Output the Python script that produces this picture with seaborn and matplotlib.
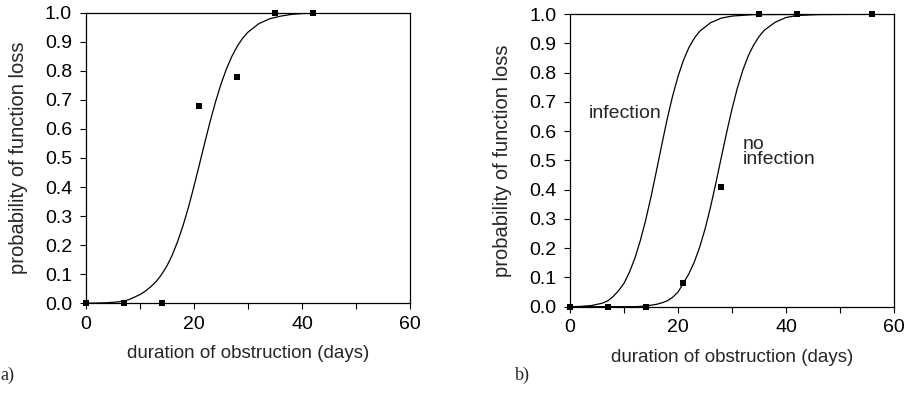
import numpy as np
import pandas as pd
import seaborn as sns
import matplotlib.pyplot as plt

# observed points (days, probability)
obs_days_a = [0, 7, 14, 21, 28, 35, 42]
obs_prob_a = [0.0, 0.0, 0.0, 0.68, 0.78, 1.0, 1.0]

obs_days_b = [0, 7, 14, 21, 28, 35, 42, 56]
obs_prob_b = [0.0, 0.0, 0.0, 0.08, 0.41, 1.0, 1.0, 1.0]

# fitted curves
fit_days_a = [0, 4, 6, 7, 8, 10, 11, 12, 13, 14, 15, 16, 17, 18, 19, 20, 21, 22, 23,
              24, 25, 26, 27, 28, 29, 30, 32, 34, 36, 38, 40, 45, 60]
fit_prob_a = [0.0, 0.002, 0.005, 0.008, 0.013, 0.03, 0.042, 0.057, 0.075, 0.099,
              0.129, 0.167, 0.214, 0.269, 0.332, 0.403, 0.477, 0.553, 0.626, 0.694,
              0.754, 0.806, 0.849, 0.884, 0.912, 0.933, 0.962, 0.979, 0.988, 0.994,
              0.997, 0.999, 1.0]

fit_days_inf = [0, 2, 4, 6, 7, 8, 9, 10, 11, 12, 13, 14, 15, 16, 17, 18, 19, 20, 21,
                22, 23, 24, 26, 28, 30, 34, 60]
fit_prob_inf = [0.0, 0.001, 0.004, 0.012, 0.02, 0.035, 0.055, 0.08, 0.118, 0.165,
                0.225, 0.295, 0.376, 0.464, 0.554, 0.642, 0.72, 0.787, 0.842, 0.885,
                0.917, 0.941, 0.97, 0.986, 0.993, 0.998, 1.0]

fit_days_noinf = [0, 10, 12, 14, 16, 17, 18, 19, 20, 21, 22, 23, 24, 25, 26, 27, 28,
                  29, 30, 31, 32, 33, 34, 35, 36, 38, 40, 42, 46, 60]
fit_prob_noinf = [0.0, 0.0, 0.0, 0.002, 0.008, 0.013, 0.02, 0.032, 0.05, 0.081, 0.112,
                  0.152, 0.203, 0.265, 0.339, 0.422, 0.509, 0.595, 0.676, 0.748, 0.808,
                  0.857, 0.894, 0.923, 0.945, 0.972, 0.988, 0.995, 0.998, 1.0]

x_ticks = [0, 20, 40, 60]
y_ticks = [round(0.1 * i, 1) for i in range(11)]

sns.set_style("ticks")
plt.rcParams['font.family'] = ['Liberation Sans', 'DejaVu Sans']

fig = plt.figure(figsize=(9.08, 4.16), dpi=100)
ax_a = fig.add_axes([0.0947, 0.2709, 0.3568, 0.6986])
ax_b = fig.add_axes([0.6278, 0.2628, 0.3568, 0.7035])


def style_axis(ax):
    ax.set_xlim(0, 60)
    ax.set_ylim(0, 1.0)
    ax.set_xticks(x_ticks)
    ax.set_xticks([10, 30, 50], minor=True)
    ax.set_yticks(y_ticks)
    ax.set_yticklabels([f"{v:.1f}" for v in y_ticks])
    ax.tick_params(which='both', direction='out', length=4, width=0.8,
                   labelsize=14, color='black', labelcolor='black')
    ax.tick_params(axis='y', pad=6)
    ax.tick_params(axis='x', pad=5)
    for sp in ax.spines.values():
        sp.set_visible(True)
        sp.set_linewidth(0.9)
        sp.set_color('black')
    ax.set_xlabel("duration of obstruction (days)", fontsize=13.5, labelpad=9)
    ax.set_ylabel("probability of function loss", fontsize=14.5, labelpad=12)


sns.lineplot(x=fit_days_a, y=fit_prob_a, ax=ax_a, color='black', linewidth=0.9)
sns.scatterplot(x=obs_days_a, y=obs_prob_a, ax=ax_a, marker='s', s=16,
                color='black', linewidth=0, zorder=3, clip_on=False)
style_axis(ax_a)

sns.lineplot(x=fit_days_inf, y=fit_prob_inf, ax=ax_b, color='black', linewidth=0.9)
sns.lineplot(x=fit_days_noinf, y=fit_prob_noinf, ax=ax_b, color='black', linewidth=0.9)
sns.scatterplot(x=obs_days_b, y=obs_prob_b, ax=ax_b, marker='s', s=16,
                color='black', linewidth=0, zorder=3, clip_on=False)
style_axis(ax_b)

ax_b.text(3.5, 0.66, "infection", fontsize=14, va='center', ha='left')
ax_b.text(31.9, 0.53, "no\ninfection", fontsize=14, va='center', ha='left',
          linespacing=0.85)

fig.text(0.0, 0.0986, "a)", fontsize=13, family='Liberation Serif', va='center')
fig.text(0.567, 0.0986, "b)", fontsize=13, family='Liberation Serif', va='center')

fig.savefig("out.png", dpi=100)
